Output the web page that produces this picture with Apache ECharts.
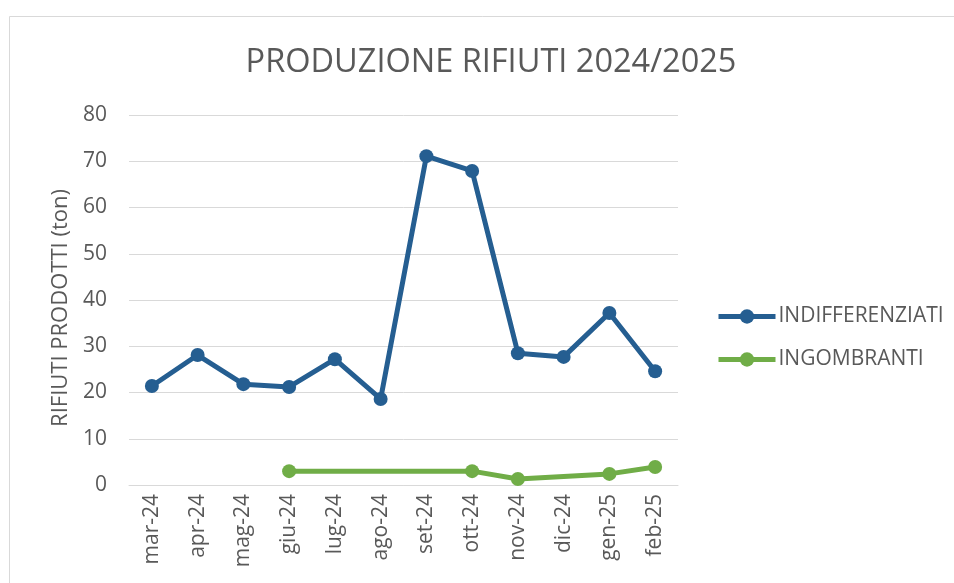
<!DOCTYPE html>
<html>
<head>
<meta charset="utf-8">
<script src="https://cdn.jsdelivr.net/npm/echarts@6/dist/echarts.min.js"></script>
<style>
html,body{margin:0;padding:0;background:#fff;}
#c{width:954px;height:583px;}
</style>
</head>
<body>
<div id="c"></div>
<script>
const categories = ['mar-24','apr-24','mag-24','giu-24','lug-24','ago-24','set-24','ott-24','nov-24','dic-24','gen-25','feb-25'];
const indifferenziati = [21.4, 28.1, 21.8, 21.2, 27.2, 18.6, 71.1, 67.9, 28.5, 27.7, 37.2, 24.6];
const ingombranti = [null, null, null, 3.0, null, null, null, 3.0, 1.3, null, 2.4, 3.9];
const titleText = 'PRODUZIONE RIFIUTI 2024/2025';
const yAxisTitle = 'RIFIUTI PRODOTTI (ton)';

const FONT = '"Open Sans", sans-serif';
const chart = echarts.init(document.getElementById('c'));
chart.setOption({
  animation: false,
  backgroundColor: '#fff',
  graphic: [{
    type: 'rect', silent: true,
    shape: {x: 9.5, y: 16.5, width: 1000, height: 700},
    style: {fill: 'none', stroke: '#d9d9d9', lineWidth: 1}
  }],
  title: {
    text: titleText, left: 486, top: 41, textAlign: 'center',
    textStyle: {fontFamily: FONT, fontSize: 32.5, fontWeight: 'normal', color: '#595959'}
  },
  legend: {
    orient: 'vertical', left: 711, top: 301, itemGap: 22,
    itemWidth: 57, itemHeight: 18,
    lineStyle: {width: 5},
    textStyle: {fontFamily: FONT, fontSize: 21, color: '#595959', padding: [0, 0, 0, -2]},
    data: ['INDIFFERENZIATI', 'INGOMBRANTI']
  },
  grid: {left: 129, right: 276, top: 115, bottom: 98, containLabel: false},
  xAxis: {
    type: 'category', data: categories, boundaryGap: true,
    axisLine: {show: true, lineStyle: {color: '#d9d9d9', width: 1}},
    axisTick: {show: false},
    axisLabel: {rotate: 90, fontFamily: FONT, fontSize: 21, color: '#595959', margin: 9, interval: 0}
  },
  yAxis: {
    type: 'value', min: 0, max: 80, interval: 10,
    name: yAxisTitle, nameLocation: 'middle', nameGap: 57, nameRotate: 90,
    nameTextStyle: {fontFamily: FONT, fontSize: 22, color: '#595959', padding: [0, 16, 0, 0]},
    axisLine: {show: false}, axisTick: {show: false},
    axisLabel: {fontFamily: FONT, fontSize: 21, color: '#595959', margin: 22},
    splitLine: {lineStyle: {color: '#d9d9d9', width: 1}}
  },
  series: [{
    name: 'INDIFFERENZIATI', type: 'line', data: indifferenziati,
    symbol: 'circle', symbolSize: 14,
    lineStyle: {color: '#255E91', width: 5},
    itemStyle: {color: '#255E91'}
  }, {
    name: 'INGOMBRANTI', type: 'line', data: ingombranti, connectNulls: true,
    symbol: 'circle', symbolSize: 14,
    lineStyle: {color: '#70AD47', width: 5},
    itemStyle: {color: '#70AD47'}
  }]
});
</script>
</body>
</html>
